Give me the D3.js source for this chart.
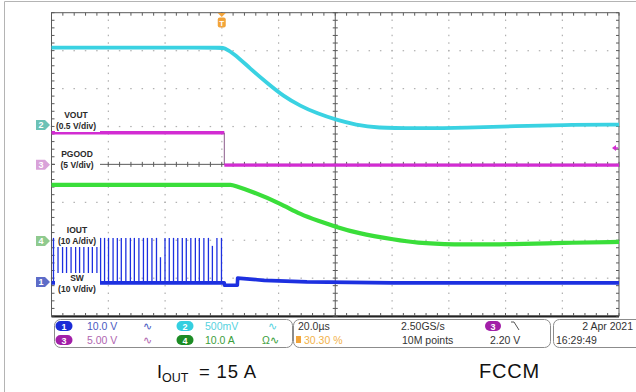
<!DOCTYPE html>
<html>
<head>
<meta charset="utf-8">
<script src="https://cdn.jsdelivr.net/npm/d3@7"></script>
<style>
    body { margin: 0; background: #fff; }
    svg { display: block; }
    text { font-family: "Liberation Sans", Arial, sans-serif; }
</style>
</head>
<body>
<svg id="chart" width="636" height="392"></svg>
<script>
// timebase 20 us/div, trigger 3 div from the left edge
const timeRange = [-60, 140]
const divRange = [-4, 4]

// channels: 1 SW, 2 VOUT, 3 PGOOD, 4 IOUT
const chIds = ['1', '2', '3', '4']
const chScales = [10, 0.5, 5, 10]
const chPositions = [-3.1, 1.04, -0.01, -2.02]
const chColors = ['#1d30e0', '#3ad2e2', '#d22cd2', '#3ade3a']
const chMarkColors = ['#5d6cc8', '#6cc2b6', '#d9a2d9', '#8fca8f']
const chLabels = [['SW', '(10 V/div)'], ['VOUT', '(0.5 V/div)'], ['PGOOD', '(5 V/div)'], ['IOUT', '(10 A/div)']]

// VOUT (V, relative to ch2 ref)
const voutT = [-60, 0, 0.6, 4.1, 10.1, 16.1, 21.7, 27.7, 33.7, 40.4, 47.4, 54.4, 68.5, 86.1, 103.7, 120, 140, 140]
const voutV = [1.02, 1.02, 1.02, 0.95, 0.74, 0.55, 0.38, 0.25, 0.15, 0.066, 0, -0.04, -0.045, -0.04, -0.015, 0, 0.005, 0.005]

// PGOOD (V)
const pgT = [-60, 0.9, 0.9, 140]
const pgV = [4.22, 4.22, -0.05, -0.05]

// IOUT (A)
const ioutT = [-60, 2, 3, 4.1, 11.1, 20.6, 27.7, 34, 40.4, 47.4, 61.5, 68.5, 80.1, 103.7, 120, 140, 140]
const ioutA = [14.8, 14.8, 14.8, 14.7, 12.9, 9.9, 7.0, 5.3, 3.7, 2.1, 0.26, -0.5, -1.0, -0.85, -0.5, -0.26, -0.26]

// SW baseline (V) and switching pulses
const swT = [-60, 0.9, 1.0, 5.5, 5.6, 15, 30, 60, 140]
const swV = [-0.26, -0.26, -0.9, -0.9, 1.0, 0.4, 0, -0.26, -0.26]
const swPulseT = [-59.3, -57.7, -56.1, -54.7, -53.1, -51.5, -50.1, -48.6, -47.0, -45.6, -44.0, -42.7,
    -41.3, -39.9, -38.3, -36.8, -35.4, -33.8, -32.2, -30.8, -29.2, -27.6, -26.2, -24.6, -23.0, -21.6,
    -20.0, -18.5, -17.0, -15.5, -13.9, -12.5, -10.9, -9.3, -7.9, -6.3, -4.7, -3.3, -1.7, -0.1]
const swPulseV = [11.6, 11.6, 11.6, 11.6, 11.6, 11.6, 11.6, 11.6, 11.6, 11.6, 11.6, 11.6,
    11.6, 11.6, 11.6, 11.6, 11.6, 11.6, 11.6, 11.6, 11.6, 11.6, 11.6, 11.6, 11.6, 6.5,
    11.6, 11.6, 11.6, 11.6, 11.6, 11.6, 11.6, 11.6, 11.6, 11.6, 11.6, 9.5, 11.6, 11.6]

const svg = d3.select('#chart')
const x = d3.scaleLinear().domain(timeRange).range([51.5, 619])
const y = d3.scaleLinear().domain(divRange).range([316, 12.7])
const yCh = (i, v) => y(chPositions[i] + v / chScales[i])

// outer frame
svg.append('line').attr('x1', 4.5).attr('x2', 636).attr('y1', 1.5).attr('y2', 1.5).attr('stroke', '#b4b4b4')
svg.append('line').attr('x1', 4.5).attr('x2', 4.5).attr('y1', 1.5).attr('y2', 392).attr('stroke', '#b4b4b4')

// graticule dots
const grid = svg.append('g').attr('fill', '#b0b0b0')
const minorT = d3.range(timeRange[0], timeRange[1] + 0.1, 4)
const minorD = d3.range(divRange[0], divRange[1] + 0.01, 0.2)
for (let k = -3; k <= 3; k++) {
    if (k === 0) continue
    minorT.forEach(t => grid.append('rect').attr('x', x(t) - 0.75).attr('y', y(k) - 0.5).attr('width', 1.5).attr('height', 1.2))
}
for (let t = -40; t <= 120; t += 20) {
    if (t === 40) continue
    minorD.forEach(d => grid.append('rect').attr('x', x(t) - 0.5).attr('y', y(d) - 0.75).attr('width', 1.2).attr('height', 1.5))
}

// frame with ticks, centre cross
const fr = svg.append('g').attr('stroke', '#5a5a5a').attr('stroke-width', 1)
fr.append('rect').attr('x', x(-60)).attr('y', y(4)).attr('width', x(140) - x(-60)).attr('height', y(-4) - y(4)).attr('fill', 'none')
fr.append('line').attr('x1', x(-60)).attr('x2', x(140)).attr('y1', y(-4) + 0.5).attr('y2', y(-4) + 0.5).attr('stroke', '#222').attr('stroke-width', 2)
minorT.forEach(t => {
    fr.append('line').attr('x1', x(t)).attr('x2', x(t)).attr('y1', y(4)).attr('y2', y(4) + 3)
    fr.append('line').attr('x1', x(t)).attr('x2', x(t)).attr('y1', y(-4)).attr('y2', y(-4) - 3)
    fr.append('line').attr('x1', x(t)).attr('x2', x(t)).attr('y1', y(0) - 2.5).attr('y2', y(0) + 2.5)
})
minorD.forEach(d => {
    fr.append('line').attr('x1', x(-60)).attr('x2', x(-60) + 3).attr('y1', y(d)).attr('y2', y(d))
    fr.append('line').attr('x1', x(140)).attr('x2', x(140) - 3).attr('y1', y(d)).attr('y2', y(d))
    fr.append('line').attr('x1', x(40) - 2.5).attr('x2', x(40) + 2.5).attr('y1', y(d)).attr('y2', y(d))
})
fr.append('line').attr('x1', x(40)).attr('x2', x(40)).attr('y1', y(4)).attr('y2', y(-4))
fr.append('line').attr('x1', x(-60)).attr('x2', x(140)).attr('y1', y(0)).attr('y2', y(0))

// traces
const traces = svg.append('g').attr('fill', 'none').attr('stroke-linejoin', 'round')
const smooth = (ch, ts, vs) => d3.line().curve(d3.curveBasis)
    .x((d, i) => x(ts[i])).y((d, i) => yCh(ch, vs[i]))(ts)
const straight = (ch, ts, vs) => d3.line()
    .x((d, i) => x(ts[i])).y((d, i) => yCh(ch, vs[i]))(ts)

traces.append('path').attr('d', smooth(1, voutT, voutV)).attr('stroke', chColors[1]).attr('stroke-width', 3.8)

for (let i = 0; i < pgT.length - 1; i++) {
    const vertical = pgT[i] === pgT[i + 1]
    traces.append('line')
        .attr('x1', x(pgT[i])).attr('x2', x(pgT[i + 1]))
        .attr('y1', yCh(2, pgV[i])).attr('y2', yCh(2, pgV[i + 1]))
        .attr('stroke', vertical ? '#8a5a8a' : chColors[2])
        .attr('stroke-width', vertical ? 1 : 3.4)
}

traces.append('path').attr('d', smooth(3, ioutT, ioutA)).attr('stroke', chColors[3]).attr('stroke-width', 4.2)

traces.selectAll('.pulse').data(swPulseT).enter().append('line')
    .attr('class', 'pulse')
    .attr('x1', d => x(d)).attr('x2', d => x(d))
    .attr('y1', yCh(0, -0.26)).attr('y2', (d, i) => yCh(0, swPulseV[i]))
    .attr('stroke', chColors[0]).attr('stroke-width', 1.3)
traces.append('path').attr('d', straight(0, swT, swV)).attr('stroke', chColors[0]).attr('stroke-width', 3.6)

// trace labels with white background
const labelCenters = [[77, 281], [76, 118], [77, 157], [77, 233]]
chLabels.forEach((lab, i) => {
    const [cx, by] = labelCenters[i]
    const g = svg.append('g')
    g.append('rect').attr('x', 55).attr('y', by - 8).attr('width', 45).attr('height', 22).attr('fill', '#fff')
    g.append('text').attr('x', cx).attr('y', by).attr('text-anchor', 'middle')
        .style('font-size', '8.5px').style('font-weight', 'bold').attr('fill', '#2a2a2a').text(lab[0])
    g.append('text').attr('x', cx).attr('y', by + 11).attr('text-anchor', 'middle')
        .style('font-size', '8.5px').style('font-weight', 'bold').attr('fill', '#2a2a2a').text(lab[1])
})

// channel ground markers
chIds.forEach((id, i) => {
    const my = yCh(i, 0)
    const g = svg.append('g')
    g.append('path')
        .attr('d', `M36,${my - 5} h9 l5,5 l-5,5 h-9 z`)
        .attr('fill', chMarkColors[i])
    g.append('text').attr('x', 41).attr('y', my + 3.5).attr('text-anchor', 'middle')
        .style('font-size', '9px').style('font-weight', 'bold').attr('fill', '#fff').text(id)
})

// trigger position marker
const tg = svg.append('g').attr('fill', '#f2a43a')
tg.append('path').attr('d', `M${x(0) - 4},13 h8 l-4,4 z`)
tg.append('rect').attr('x', x(0) - 4).attr('y', 17.5).attr('width', 8).attr('height', 10).attr('rx', 2)
tg.append('text').attr('x', x(0)).attr('y', 26).attr('text-anchor', 'middle')
    .style('font-size', '8px').style('font-weight', 'bold').attr('fill', '#fff').text('T')

// trigger level marker (ch3, 2.20 V)
svg.append('path').attr('d', `M612,${yCh(2, 2.2)} l4,-3 v6 z`).attr('fill', chColors[2])
svg.append('line').attr('x1', 615).attr('x2', 618).attr('y1', yCh(2, 2.2)).attr('y2', yCh(2, 2.2))
    .attr('stroke', chColors[2]).attr('stroke-width', 1.5)

// status bar
const sb = svg.append('g').style('font-size', '10.5px')
const boxes = [[54.5, 238], [293.5, 257], [553.5, 100]]
boxes.forEach(b => sb.append('rect').attr('x', b[0]).attr('y', 319.5).attr('width', b[1]).attr('height', 28)
    .attr('rx', 6).attr('fill', '#fff').attr('stroke', '#8c8c8c'))
const row1 = 330, row2 = 344
const pillColors = ['#1b2bd6', '#34cfe0', '#a21fa8', '#1c8c25']
const pillPos = [[64, 326], [185, 326], [64, 340], [185, 340]]
const pillIds = ['1', '2', '3', '4']
pillIds.forEach((id, i) => {
    sb.append('rect').attr('x', pillPos[i][0] - 8.5).attr('y', pillPos[i][1] - 5).attr('width', 17).attr('height', 10)
        .attr('rx', 5).attr('fill', pillColors[i])
    sb.append('text').attr('x', pillPos[i][0]).attr('y', pillPos[i][1] + 3.5).attr('text-anchor', 'middle')
        .style('font-size', '9px').style('font-weight', 'bold').attr('fill', '#fff').text(id)
})
const sbTexts = [
    ['10.0 V', 87, row1, '#4a5ac2'], ['∿', 143, row1, '#4a5ac2'], ['500mV', 205, row1, '#56d2e0'], ['∿', 268, row1, '#56d2e0'],
    ['5.00 V', 87, row2, '#b066b0'], ['∿', 143, row2, '#b066b0'], ['10.0 A', 205, row2, '#3b9e3b'], ['Ω∿', 262, row2, '#3b9e3b'],
    ['20.0µs', 298, row1, '#333'], ['30.30 %', 304, row2, '#f2b24a'],
    ['2.50GS/s', 401, row1, '#333'], ['10M points', 402, row2, '#333'],
    ['2.20 V', 490, row2, '#333'], ['16:29:49', 556, row2, '#333']
]
sbTexts.forEach(t => sb.append('text').attr('x', t[1]).attr('y', t[2]).attr('fill', t[3]).text(t[0]))
sb.append('text').attr('x', 633).attr('y', row1).attr('text-anchor', 'end').attr('fill', '#333').text('2 Apr  2021')
sb.append('rect').attr('x', 296).attr('y', 336).attr('width', 5).attr('height', 7).attr('fill', '#f2a43a')
sb.append('rect').attr('x', 485).attr('y', 321).attr('width', 16).attr('height', 10).attr('rx', 5).attr('fill', pillColors[2])
sb.append('text').attr('x', 493).attr('y', 329.5).attr('text-anchor', 'middle')
    .style('font-size', '9px').style('font-weight', 'bold').attr('fill', '#fff').text('3')
sb.append('path').attr('d', 'M511,322 h3 l5,8').attr('fill', 'none').attr('stroke', '#555').attr('stroke-width', 1)

// captions
const cap = svg.append('g').attr('fill', '#111')
const c1 = cap.append('text').attr('x', 157).attr('y', 378).style('font-size', '18px')
c1.append('tspan').text('I')
c1.append('tspan').attr('dy', 4).style('font-size', '12.5px').text('OUT')
cap.append('text').attr('x', 199).attr('y', 378).style('font-size', '18.5px').style('letter-spacing', '0.8px').text('= 15 A')
cap.append('text').attr('x', 479).attr('y', 378).style('font-size', '20px').style('letter-spacing', '0.8px').text('FCCM')
</script>
</body>
</html>
